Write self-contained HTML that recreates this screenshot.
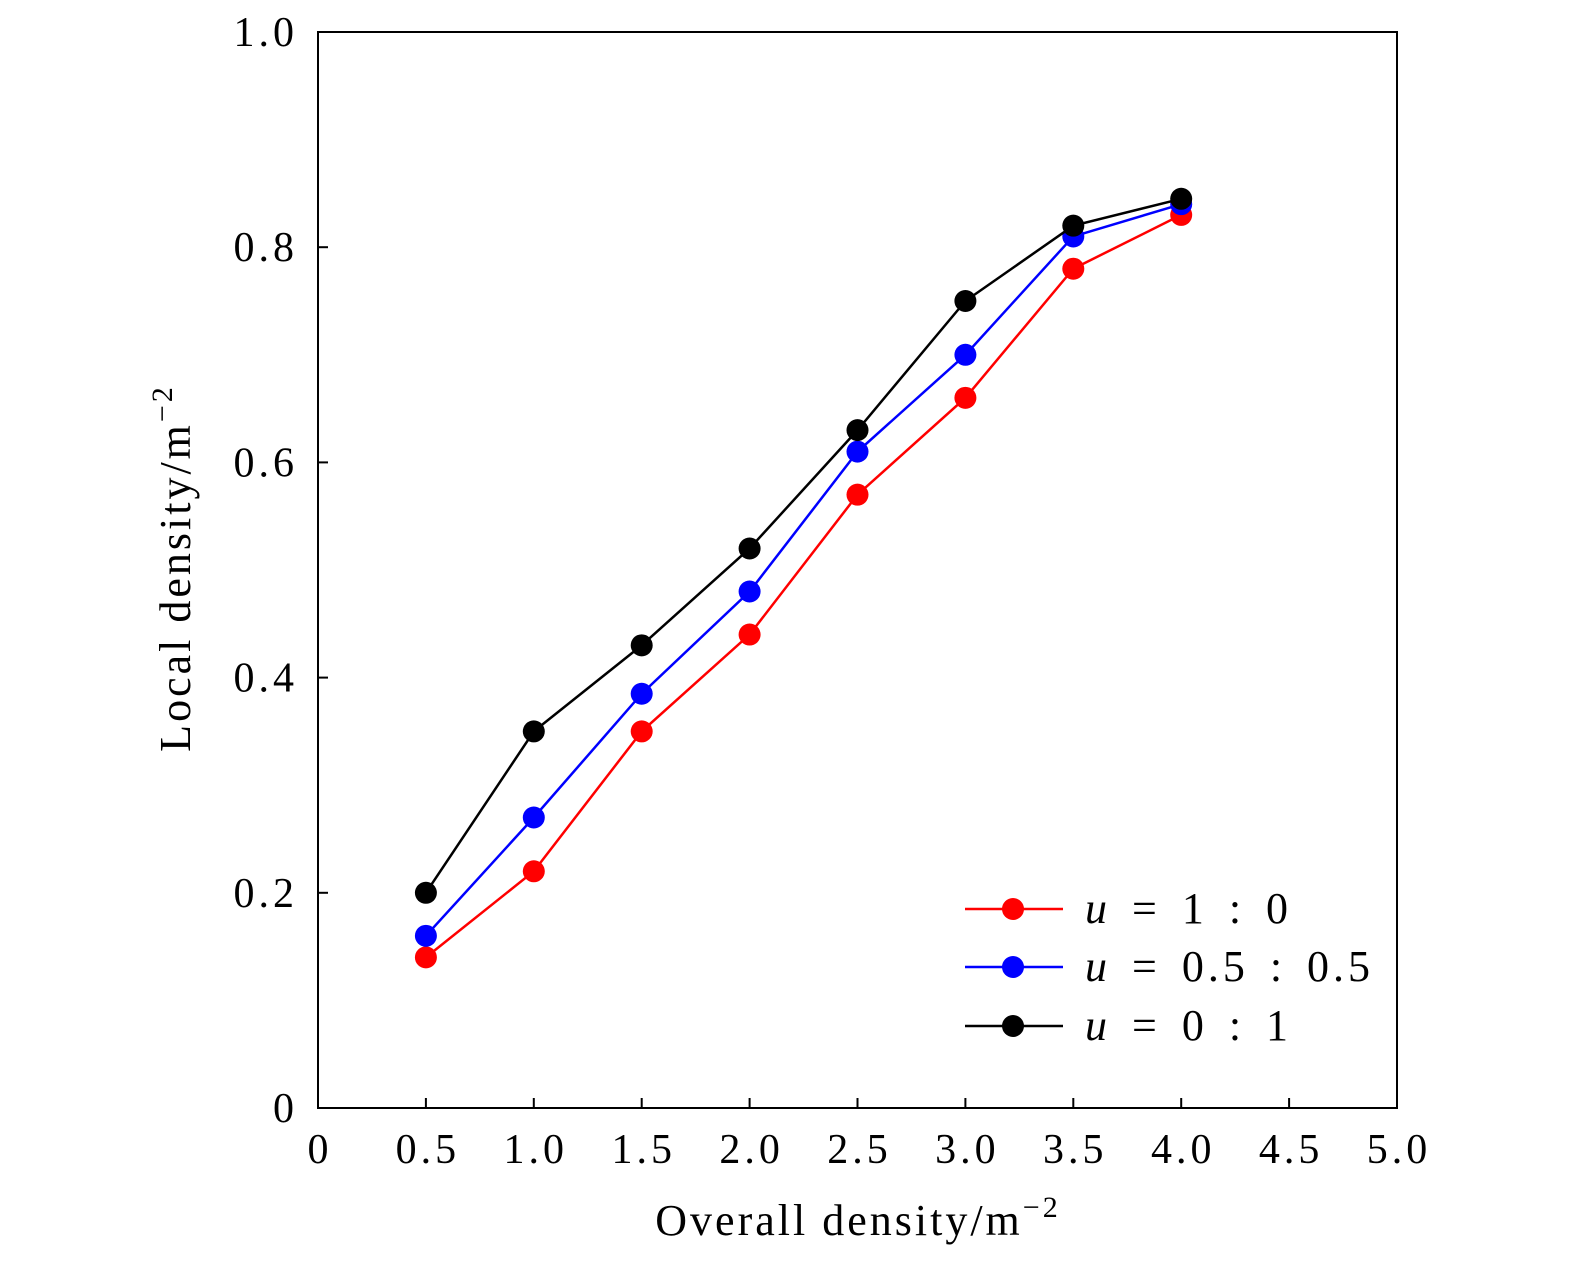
<!DOCTYPE html>
<html><head><meta charset="utf-8"><style>
body{margin:0;background:#fff;}
svg text{font-family:"Liberation Serif",serif;fill:#000;}
</style></head><body>
<svg id="chart" width="1575" height="1260" xmlns="http://www.w3.org/2000/svg">
<rect x="318" y="32" width="1079" height="1076" fill="none" stroke="#000" stroke-width="2"/>
<g id="ticks"></g>
<g id="series"></g>
<text x="858" y="1235" font-size="44" letter-spacing="3" text-anchor="middle">Overall density/m<tspan font-size="30" dy="-18">−2</tspan></text>
<text transform="translate(190,568) rotate(-90)" font-size="44" letter-spacing="3" text-anchor="middle">Local density/m<tspan font-size="30" dy="-18">−2</tspan></text>
<g id="legend"></g>
</svg>
<script>
const xCats=[0.5,1.0,1.5,2.0,2.5,3.0,3.5,4.0];
const redVals=[0.14,0.22,0.35,0.44,0.57,0.66,0.78,0.83];
const blueVals=[0.16,0.27,0.385,0.48,0.61,0.70,0.81,0.84];
const blackVals=[0.20,0.35,0.43,0.52,0.63,0.75,0.82,0.845];
const xTicks=[0,0.5,1.0,1.5,2.0,2.5,3.0,3.5,4.0,4.5,5.0];
const xTickLabels=["0","0.5","1.0","1.5","2.0","2.5","3.0","3.5","4.0","4.5","5.0"];
const yTicks=[0,0.2,0.4,0.6,0.8,1.0];
const yTickLabels=["0","0.2","0.4","0.6","0.8","1.0"];
const NS="http://www.w3.org/2000/svg";
const X=v=>318+v*(1079/5), Y=v=>1108-v*1076;
function mk(t,a,p){const e=document.createElementNS(NS,t);for(const k in a)e.setAttribute(k,a[k]);p.appendChild(e);return e;}
const tg=document.getElementById('ticks');
xTicks.forEach((v,i)=>{
 const l=mk('line',{x1:X(v),x2:X(v),y1:1108,y2:1098,stroke:'#000','stroke-width':2},tg);
 
 
 const t=mk('text',{x:X(v)+2,y:1163,'font-size':42,'letter-spacing':4,'text-anchor':'middle'},tg);t.textContent=xTickLabels[i];
 
 
});
yTicks.forEach((v,i)=>{
 const l=mk('line',{x1:318,x2:328,y1:Y(v),y2:Y(v),stroke:'#000','stroke-width':2},tg);
 
 
 const t=mk('text',{x:298,y:Y(v)+14,'font-size':42,'letter-spacing':4,'text-anchor':'end'},tg);t.textContent=yTickLabels[i];
 
 
});
const sg=document.getElementById('series');
const all=[[redVals,'#ff0000','red'],[blueVals,'#0000ff','blue'],[blackVals,'#000000','black']];
all.forEach(([vals,c,n])=>{
 const p=mk('polyline',{points:vals.map((v,i)=>X(xCats[i])+','+Y(v)).join(' '),fill:'none',stroke:c,'stroke-width':2.5},sg);
 
 
 vals.forEach((v,i)=>{
  const m=mk('circle',{cx:X(xCats[i]),cy:Y(v),r:11,fill:c},sg);
  
  
 });
});
const lg=document.getElementById('legend');
const ly=[909,967,1026];
const lparts=["1 : 0","0.5 : 0.5","0 : 1"];
all.forEach(([v,c,n],i)=>{
 const l=mk('line',{x1:965,x2:1063,y1:ly[i],y2:ly[i],stroke:c,'stroke-width':2.5},lg);
 
 
 const m=mk('circle',{cx:1013,cy:ly[i],r:11,fill:c},lg);
 
 
 const t=mk('text',{x:1085,y:ly[i]+14,'font-size':44,'letter-spacing':4,'word-spacing':6},lg);
 t.innerHTML='<tspan font-style="italic">u</tspan> = '+lparts[i];
 
 
});
</script>
</body></html>
